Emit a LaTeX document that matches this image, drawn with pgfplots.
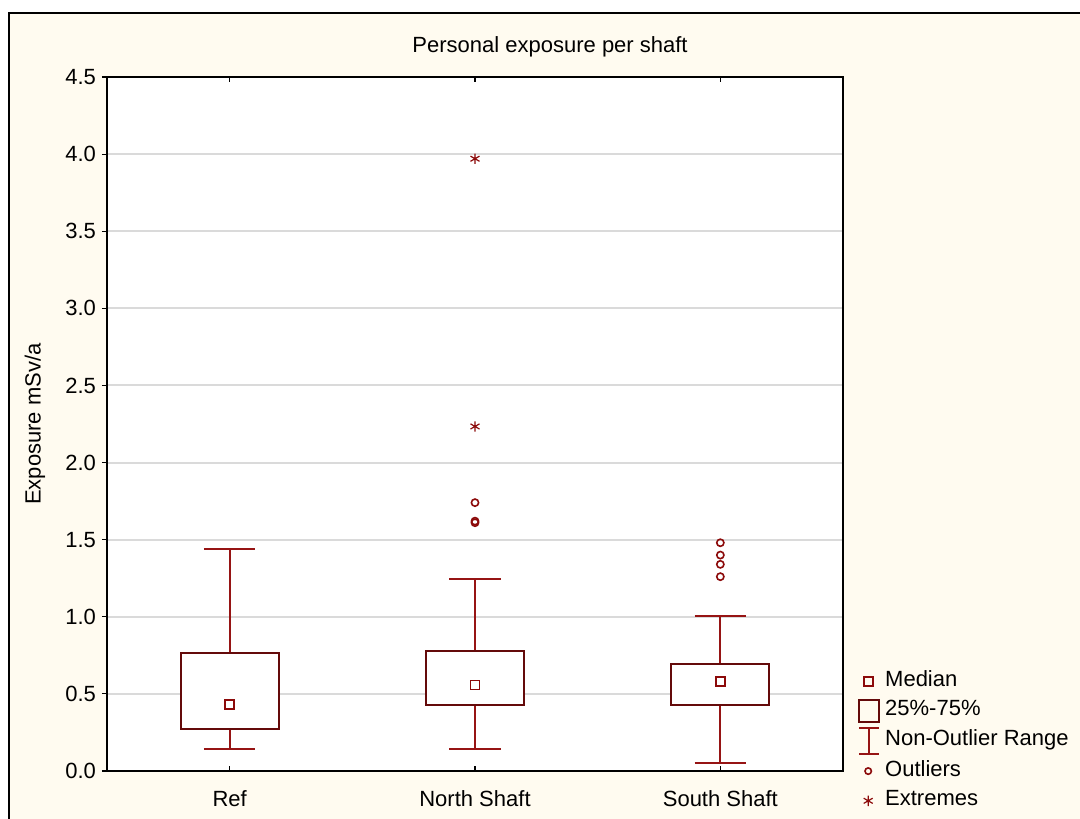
\documentclass[border=0pt]{standalone}
\usepackage{fontspec}
\setmainfont{Liberation Sans}
\usepackage{pgfplots}
\pgfplotsset{compat=1.18}
\usepgfplotslibrary{statistics}
\definecolor{cream}{RGB}{255,251,240}
\definecolor{whisk}{RGB}{150,20,20}
\definecolor{boxc}{RGB}{100,10,10}
\definecolor{mk}{RGB}{140,10,10}
\definecolor{gridc}{RGB}{218,218,218}
\newcommand{\fs}{\fontsize{11bp}{13bp}\selectfont}
\newcommand{\limg}[1]{\node[inner sep=0pt, anchor=west, draw=none, fill=none] at (0,0) {\tikz[baseline=-4bp]{\path[draw=none, fill=none] (0,-7bp) rectangle (10bp,7bp); #1}};}
\begin{document}
\begin{tikzpicture}
\path[use as bounding box] (0,0) rectangle (540bp,409.5bp);
\fill[white] (0,0) rectangle (540bp,409.5bp);
\draw[fill=cream, line width=1bp] (4.5bp,-10bp) rectangle (550bp,403bp);
\begin{axis}[
  at={(53.5bp,24bp)}, anchor=south west,
  scale only axis, width=368bp, height=347bp,
  xmin=-0.5, xmax=2.5, ymin=0, ymax=4.5,
  xtick={0,1,2}, xticklabels={Ref, North Shaft, South Shaft},
  ytick={0,0.5,1,1.5,2,2.5,3,3.5,4,4.5},
  ytick pos=left, xtick pos=both,
  tick align=inside,
  major tick length=2.5bp,
  y tick style={xshift=-2.5bp, black, line width=0.6bp},
  x tick style={black, line width=0.6bp},
  yticklabel style={/pgf/number format/fixed, /pgf/number format/fixed zerofill, /pgf/number format/precision=1},
  /pgf/number format/assume math mode=true,
  tick label style={font=\fs},
  yticklabel style={xshift=-2bp},
  xticklabel style={yshift=-6.5bp},
  ymajorgrids, grid style={gridc, line width=1bp},
  axis line style={black, line width=0.8bp},
  axis background/.style={fill=white},
  ylabel={Exposure mSv/a},
  ylabel style={at={(axis description cs:-0.098,0.5)}, anchor=center, font=\fs},
  title={Personal exposure per shaft},
  title style={at={(axis description cs:0.602,1)}, anchor=base, yshift=6.5bp, font=\fs},
  legend style={at={(axis description cs:1.012,0.157)}, anchor=north west,
    draw=none, fill=none, font=\fs, row sep=1.6bp, column sep=0.5bp},
  legend cell align=left,
  boxplot/draw direction=y,
  boxplot/every box/.style={draw=boxc, fill=white, line width=1bp},
  boxplot/every whisker/.style={draw=whisk, line width=1bp},
  boxplot/every median/.style={draw=none},
]
\addlegendimage{legend image code/.code={\limg{\draw[mk, line width=0.8bp] (2.75bp,-2.25bp) rectangle (7.25bp,2.25bp);}}}
\addlegendentry{Median}
\addlegendimage{legend image code/.code={\limg{\draw[boxc, line width=1bp] (0bp,-5.5bp) rectangle (10bp,5.5bp);}}}
\addlegendentry{25\%-75\%}
\addlegendimage{legend image code/.code={\limg{\draw[whisk, line width=1bp] (0bp,-6.5bp) -- (10bp,-6.5bp) (5bp,-6.5bp) -- (5bp,6.5bp) (0bp,6.5bp) -- (10bp,6.5bp);}}}
\addlegendentry{Non-Outlier Range}
\addlegendimage{legend image code/.code={\limg{\draw[mk, line width=0.8bp] (5bp,0bp) circle (1.6bp);}}}
\addlegendentry{Outliers}
\addlegendimage{legend image code/.code={\limg{\draw[mk, line width=0.6bp] plot[mark=asterisk, mark size=2.6bp] coordinates {(5bp,0bp)};}}}
\addlegendentry{Extremes}

\addplot[forget plot, boxc, boxplot prepared={draw position=0, lower whisker=0.145, lower quartile=0.273, median=0.43, upper quartile=0.766, upper whisker=1.44, box extend=0.4, whisker extend=0.21}] coordinates {};
\addplot[forget plot, boxc, boxplot prepared={draw position=1, lower whisker=0.14, lower quartile=0.428, median=0.558, upper quartile=0.779, upper whisker=1.247, box extend=0.4, whisker extend=0.21}] coordinates {};
\addplot[forget plot, boxc, boxplot prepared={draw position=2, lower whisker=0.05, lower quartile=0.428, median=0.58, upper quartile=0.697, upper whisker=1.007, box extend=0.4, whisker extend=0.21}] coordinates {};

\addplot[forget plot, only marks, mk, mark=square, mark size=2.2bp, mark options={line width=0.8bp}] coordinates {(0,0.43) (1,0.558) (2,0.58)};
\addplot[forget plot, only marks, mk, mark=o, mark size=1.8bp, mark options={line width=0.8bp}] coordinates {(1,1.74) (1,1.62) (1,1.61) (2,1.48) (2,1.40) (2,1.34) (2,1.26)};
\addplot[forget plot, only marks, mk, mark=asterisk, mark size=2.6bp, mark options={line width=0.6bp}] coordinates {(1,3.97) (1,2.234)};
\end{axis}
\end{tikzpicture}
\end{document}
